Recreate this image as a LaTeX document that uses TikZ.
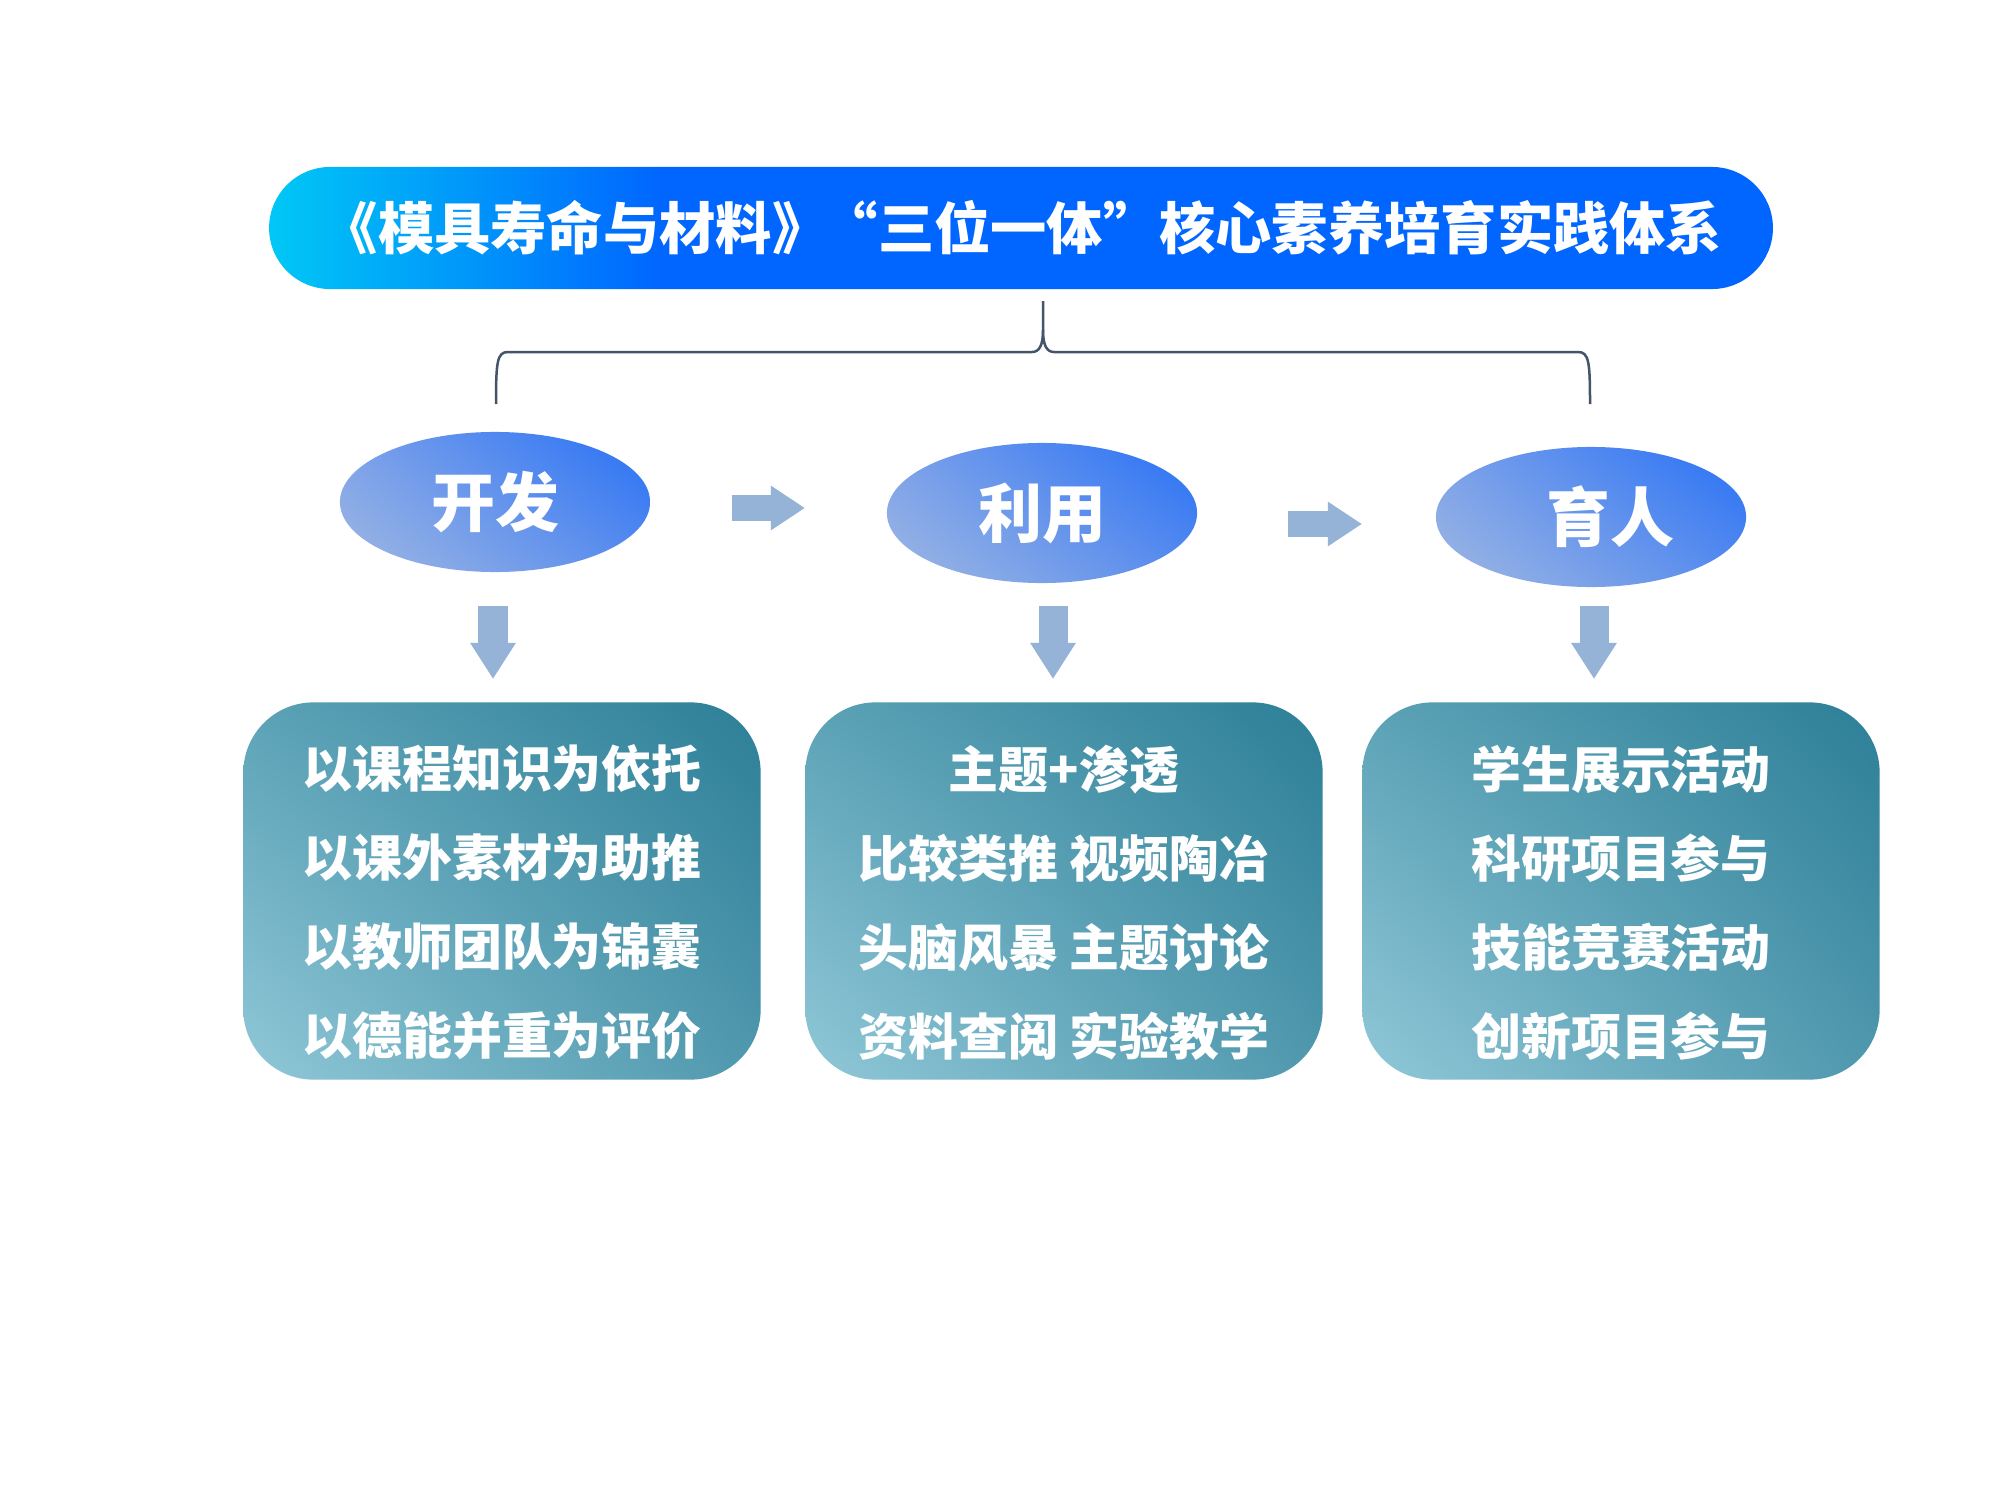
\documentclass[tikz,border=0pt]{standalone}
\usepackage{fontspec}
\newfontfamily\cjk{Noto Sans CJK SC}
\usetikzlibrary{shapes.geometric,shadings,arrows.meta}
\definecolor{tcyan}{RGB}{0,200,245}
\definecolor{tblue}{RGB}{0,102,255}
\definecolor{arrowc}{RGB}{149,179,215}
\definecolor{bracec}{RGB}{68,84,106}
\pgfdeclarehorizontalshading{titleshade}{100bp}{color(0bp)=(tcyan); color(25bp)=(tcyan); color(38bp)=(tblue); color(100bp)=(tblue)}
\begin{document}
\begin{tikzpicture}[x=0.01cm,y=-0.01cm,
  titlebar/.style={rectangle, rounded corners=0.61cm, minimum width=15.03cm, minimum height=1.22cm, shading=titleshade, text=white, font=\cjk\bfseries\fontsize{16}{18}\selectfont},
  oval/.style={ellipse, minimum width=3.1cm, minimum height=1.4cm, inner sep=0pt,
    upper left={rgb,255:red,122;green,160;blue,234}, upper right={rgb,255:red,38;green,112;blue,246},
    lower left={rgb,255:red,160;green,184;blue,226}, lower right={rgb,255:red,88;green,140;blue,238},
    text=white, font=\cjk\bfseries\fontsize{18.2}{20}\selectfont},
  panel/.style={rectangle, rounded corners=0.7cm, minimum width=5.17cm, minimum height=3.77cm, inner sep=0pt,
    upper left={rgb,255:red,92;green,162;blue,182}, upper right={rgb,255:red,44;green,127;blue,151},
    lower left={rgb,255:red,144;green,200;blue,216}, lower right={rgb,255:red,80;green,152;blue,174}},
  paneltext/.style={text=white, align=center, inner sep=0pt, font=\cjk\bfseries\fontsize{14.2}{25.3}\selectfont},
  harrow/.style={draw=arrowc, line width=0.26cm, -{Triangle[width=0.42cm,length=0.34cm]}},
  varrow/.style={draw=arrowc, line width=0.29cm, -{Triangle[width=0.43cm,length=0.36cm]}},
  brace/.style={draw=bracec, line width=0.025cm}
]
\useasboundingbox (0,0) rectangle (2000,1500);
\fill[white] (0,0) rectangle (2000,1500);

\node[titlebar] (title) at (1021,228) {\hspace{0.02cm}《模具寿命与材料》\hspace{-0.065cm}“三位一体”核心素养培育实践体系};

\node[oval] (kf) at (495,502) {开发};
\node[oval] (ly) at (1042,513) {利用};
\node[oval] (yr) at (1591,517) {\hspace{0.38cm}育人};

\coordinate (bt) at (1043,301);
\coordinate (bl) at (496,404);
\coordinate (br) at (1590,404);
\draw[brace] (bl) .. controls (496,362) and (497,352) .. (508,352) -- (1032,352)
  .. controls (1039,352) and (1043,346) .. (1043,330) -- (bt);
\draw[brace] (br) .. controls (1590,362) and (1589,352) .. (1578,352) -- (1054,352)
  .. controls (1047,352) and (1043,346) .. (1043,330);

\coordinate (h1s) at (732,508); \coordinate (h1e) at (805,508);
\coordinate (h2s) at (1288,524); \coordinate (h2e) at (1362,524);
\draw[harrow] (h1s) -- (h1e);
\draw[harrow] (h2s) -- (h2e);

\node[panel] (p1) at (502,891) {};
\node[panel] (p2) at (1064,891) {};
\node[panel] (p3) at (1621,891) {};
\node[paneltext] (t1) at ([yshift=-0.115cm]p1.center) {以课程知识为依托\\以课外素材为助推\\以教师团队为锦囊\\以德能并重为评价};
\node[paneltext] (t2) at ([yshift=-0.115cm]p2.center) {主题+渗透\\比较类推 视频陶冶\\头脑风暴 主题讨论\\资料查阅 实验教学};
\node[paneltext] (t3) at ([yshift=-0.115cm]p3.center) {学生展示活动\\科研项目参与\\技能竞赛活动\\创新项目参与};

\coordinate (d1s) at (493,606); \coordinate (d1e) at (493,679);
\coordinate (d2s) at (1053,606); \coordinate (d2e) at (1053,679);
\coordinate (d3s) at (1594,606); \coordinate (d3e) at (1594,679);
\draw[varrow] (d1s) -- (d1e);
\draw[varrow] (d2s) -- (d2e);
\draw[varrow] (d3s) -- (d3e);
\end{tikzpicture}
\end{document}
